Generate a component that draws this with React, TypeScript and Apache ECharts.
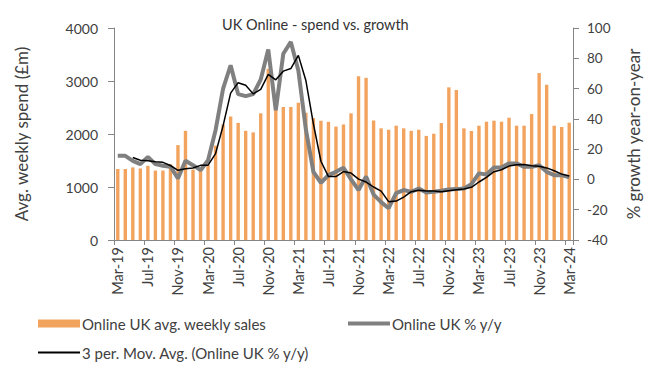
import React, { useEffect, useRef } from "react";
import * as echarts from "echarts";

const months = ['Mar-19','Apr-19','May-19','Jun-19','Jul-19','Aug-19','Sep-19','Oct-19','Nov-19','Dec-19','Jan-20','Feb-20','Mar-20','Apr-20','May-20','Jun-20','Jul-20','Aug-20','Sep-20','Oct-20','Nov-20','Dec-20','Jan-21','Feb-21','Mar-21','Apr-21','May-21','Jun-21','Jul-21','Aug-21','Sep-21','Oct-21','Nov-21','Dec-21','Jan-22','Feb-22','Mar-22','Apr-22','May-22','Jun-22','Jul-22','Aug-22','Sep-22','Oct-22','Nov-22','Dec-22','Jan-23','Feb-23','Mar-23','Apr-23','May-23','Jun-23','Jul-23','Aug-23','Sep-23','Oct-23','Nov-23','Dec-23','Jan-24','Feb-24','Mar-24'];

const weeklySales = [1340,1340,1370,1350,1400,1310,1310,1430,1790,2060,1330,1330,1420,1780,2180,2330,2210,2060,2030,2390,3230,2540,2510,2510,2590,2400,2300,2250,2230,2140,2180,2390,3090,3060,2255,2107,2080,2157,2107,2060,2080,1964,2005,2207,2880,2830,2107,2057,2157,2232,2251,2232,2307,2157,2157,2376,3150,2930,2157,2132,2213];

const growthYoY = [15.6,15.6,12.3,10.1,14.9,10.1,9.0,8.4,0.7,12.3,9.4,6.1,12.7,32.5,60,75.4,56.3,55,56.3,66,85.8,45.7,83,90.8,72,33,5,-2.2,2.8,5,7.7,0,-7,2,-10,-15,-19,-9,-7,-8.2,-6,-8.6,-8.2,-7.5,-6.6,-6.4,-6,-3.1,4,3.3,7.9,7.9,10.6,10.6,8.3,8.3,9.4,5,2.8,2.8,1.3];

const movAvg = [null,null,14.5,12.7,12.4,11.7,11.3,9.2,6.0,7.1,7.5,9.3,9.4,17.1,35.5,57,63.9,62.2,56.5,59.5,69.4,65.8,71.5,73.2,81.9,65.3,36.7,12,1.9,1.9,5.2,4.2,0.2,-1.7,-5,-7.7,-14.7,-14.3,-11.7,-8.1,-7.1,-7.6,-7.6,-8.1,-7.4,-6.8,-6.3,-5.2,-1.7,1.4,5.1,6.4,8.8,9.7,9.8,9.1,8.7,7.6,5.7,3.5,2.3];

const seriesNames = ['Online UK avg. weekly sales', 'Online UK % y/y', '3 per. Mov. Avg. (Online UK % y/y)'];

const FONT = 'Lato';
const TXT = '#404040';
const AXIS = '#868686';
const ORANGE = '#F2A35E';
const GRAY = '#808080';

export default function App() {
  const ref = useRef<HTMLDivElement>(null);
  useEffect(() => {
    if (!ref.current) return;
    const chart = echarts.init(ref.current, undefined, { renderer: 'svg' });
    const legendText = { fontFamily: FONT, fontSize: 15, color: TXT, padding: [0, 0, 0, -3] };
    chart.setOption({
      animation: false,
      backgroundColor: '#ffffff',
      textStyle: { fontFamily: FONT },
      title: {
        text: 'UK Online - spend vs. growth',
        left: 217,
        top: 12,
        textStyle: { fontFamily: FONT, fontSize: 14.5, fontWeight: 'normal', color: '#333333' },
      },
      legend: [
        {
          data: [{ name: seriesNames[0], icon: 'rect' }], left: 33, top: 311, itemWidth: 42, itemHeight: 8,
          textStyle: legendText,
        },
        {
          data: [{ name: seriesNames[1], icon: 'rect' }], left: 343, top: 311, itemWidth: 42, itemHeight: 4,
          textStyle: legendText,
        },
        {
          data: [{ name: seriesNames[2], icon: 'rect' }], left: 33, top: 340, itemWidth: 42, itemHeight: 2,
          textStyle: legendText,
        },
      ],
      grid: { left: 114, right: 75, top: 28, bottom: 127 },
      xAxis: {
        type: 'category',
        data: months,
        boundaryGap: true,
        axisLine: { lineStyle: { color: AXIS, width: 1 } },
        axisTick: { show: true, interval: 3, length: 5, lineStyle: { color: AXIS } },
        axisLabel: { interval: 3, rotate: 90, margin: 7, fontFamily: FONT, fontSize: 14.5, color: TXT },
        splitLine: { show: false },
      },
      yAxis: [
        {
          type: 'value', min: 0, max: 4000, interval: 1000,
          name: 'Avg. weekly spend (£m)', nameLocation: 'middle', nameGap: 84,
          nameTextStyle: { fontFamily: FONT, fontSize: 17, color: TXT },
          axisLine: { show: true, lineStyle: { color: AXIS } },
          axisTick: { show: true, length: 6, lineStyle: { color: AXIS } },
          axisLabel: { margin: 16, fontFamily: FONT, fontSize: 14, color: TXT, formatter: (v: number) => String(v) },
          splitLine: { show: false },
        },
        {
          type: 'value', min: -40, max: 100, interval: 20, position: 'right',
          name: '% growth year-on-year', nameLocation: 'middle', nameGap: 52, nameRotate: 90,
          nameTextStyle: { fontFamily: FONT, fontSize: 17, color: TXT },
          axisLine: { show: true, lineStyle: { color: AXIS } },
          axisTick: { show: true, length: 6, lineStyle: { color: AXIS } },
          axisLabel: { margin: 14, fontFamily: FONT, fontSize: 13.5, color: TXT },
          splitLine: { show: false },
        },
      ],
      series: [
        {
          name: seriesNames[0], type: 'bar', data: weeklySales, yAxisIndex: 0,
          barWidth: '45%', itemStyle: { color: ORANGE }, z: 1,
        },
        {
          name: seriesNames[1], type: 'line', data: growthYoY, yAxisIndex: 1,
          showSymbol: false, symbol: 'none', lineStyle: { color: GRAY, width: 4 },
          itemStyle: { color: GRAY }, z: 3,
        },
        {
          name: seriesNames[2], type: 'line', data: movAvg, yAxisIndex: 1,
          showSymbol: false, symbol: 'none', lineStyle: { color: '#000000', width: 1.5 },
          itemStyle: { color: '#000000' }, z: 4,
        },
      ],
    });
    return () => chart.dispose();
  }, []);
  return <div ref={ref} style={{ width: 650, height: 367, position: 'absolute', left: 0, top: 0 }} />;
}
